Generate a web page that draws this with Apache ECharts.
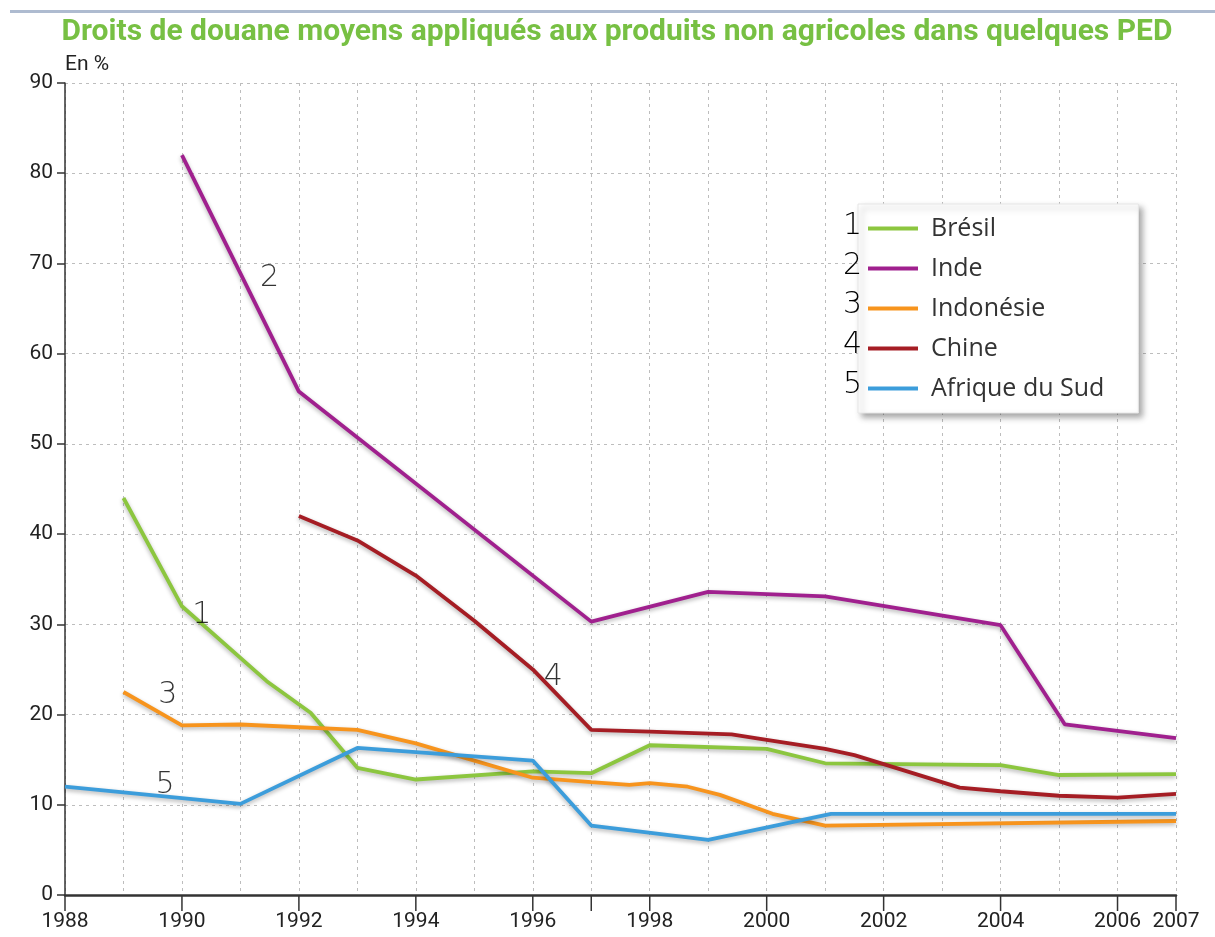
<!DOCTYPE html>
<html>
<head>
<meta charset="utf-8">
<script src="https://cdn.jsdelivr.net/npm/echarts@6/dist/echarts.min.js"></script>
<style>html,body{margin:0;padding:0;background:#fff}#c{width:1215px;height:937px}</style>
</head>
<body>
<div id="c"></div>
<script>
const titleText = 'Droits de douane moyens appliqués aux produits non agricoles dans quelques PED';
const yUnit = 'En %';
const seriesNames = ['Brésil', 'Inde', 'Indonésie', 'Chine', 'Afrique du Sud'];
const seriesColors = ['#8cc63f', '#a0208e', '#f7941d', '#a51d24', '#3c9ddb'];

const bresilYears = [1989, 1990, 1991.45, 1992.2, 1993, 1994, 1996, 1997, 1998, 2000, 2001, 2004, 2005, 2007];
const bresilValues = [44, 32, 23.7, 20.2, 14.1, 12.8, 13.7, 13.5, 16.6, 16.2, 14.6, 14.4, 13.3, 13.4];

const indeYears = [1990, 1992, 1997, 1999, 2001, 2004, 2005.1, 2007];
const indeValues = [82, 55.8, 30.3, 33.6, 33.1, 29.9, 18.9, 17.4];

const indonesieYears = [1989, 1990, 1991, 1993, 1994, 1995, 1996, 1997, 1997.65, 1998, 1998.65, 1999.2, 2000.1, 2001, 2007];
const indonesieValues = [22.5, 18.8, 18.9, 18.3, 16.8, 14.9, 13.0, 12.5, 12.2, 12.4, 12.0, 11.1, 9.0, 7.7, 8.2];

const chineYears = [1992, 1993, 1994, 1995, 1996, 1997, 1998, 1999.4, 2000, 2001, 2001.5, 2002, 2003.3, 2004, 2005, 2006, 2007];
const chineValues = [42, 39.3, 35.4, 30.4, 25, 18.3, 18.1, 17.8, 17.2, 16.2, 15.5, 14.5, 11.9, 11.5, 11.0, 10.8, 11.2];

const afriqueYears = [1988, 1991, 1993, 1996, 1997, 1999, 2001.1, 2007];
const afriqueValues = [12.0, 10.1, 16.3, 14.9, 7.7, 6.1, 9.0, 9.0];

const yearMin = 1988, yearMax = 2007;
const labelStep = 2;
const xTickValues = [1988, 1990, 1992, 1994, 1996, 1997, 1998, 2000, 2002, 2004, 2006, 2007];

const annotLabels = ['1', '2', '3', '4', '5'];
const annotYears = [1990.34, 1991.5, 1989.76, 1996.35, 1989.71];
const annotValues = [31.0, 68.4, 22.2, 24.1, 12.2];

const narrow = "Roboto, sans-serif";

function pairs(xs, ys) { return xs.map((x, i) => [x, ys[i]]); }
const allYears = [bresilYears, indeYears, indonesieYears, chineYears, afriqueYears];
const allValues = [bresilValues, indeValues, indonesieValues, chineValues, afriqueValues];

const lineSeries = seriesNames.map((n, i) => ({
  name: n,
  type: 'line',
  data: pairs(allYears[i], allValues[i]),
  showSymbol: false,
  symbol: 'none',
  lineStyle: { color: seriesColors[i], width: 3.8, shadowBlur: 4, shadowColor: 'rgba(0,0,0,0.3)', shadowOffsetY: 2 },
  itemStyle: { color: seriesColors[i] },
  z: 3
}));

const annotSeries = {
  name: 'annot',
  type: 'scatter',
  symbolSize: 0,
  data: annotYears.map((x, i) => ({ value: [x, annotValues[i]], label: { formatter: annotLabels[i] } })),
  label: { show: true, position: 'inside', color: '#000', fontSize: 30, fontWeight: 200, fontFamily: 'DejaVu Sans' },
  z: 5
};

// x-axis tick marks below the axis line, positioned through the axis scale
const tickSeries = {
  name: 'ticks',
  type: 'custom',
  clip: false,
  silent: true,
  data: xTickValues.map(v => [v, 0]),
  renderItem: function (params, api) {
    const p = api.coord([api.value(0), 0]);
    return { type: 'line', shape: { x1: p[0], y1: p[1], x2: p[0], y2: p[1] + 16 }, style: { stroke: '#333', lineWidth: 1.5 } };
  },
  z: 10
};

const hw = { fontSize: 30, fontWeight: 200, fontFamily: 'DejaVu Sans', fill: '#000' };

const chart = echarts.init(document.getElementById('c'), null, { renderer: 'canvas' });
chart.setOption({
  backgroundColor: '#fff',
  animation: false,
  title: {
    text: titleText,
    left: 612, top: 12, textAlign: 'center',
    textStyle: { color: '#77c043', fontSize: 30, fontWeight: 'bold', fontFamily: narrow }
  },
  grid: { left: 65, right: 39, top: 83, bottom: 42 },
  legend: {
    data: seriesNames,
    orient: 'vertical',
    left: 858, top: 204,
    padding: [12, 34, 12, 10],
    itemWidth: 50, itemHeight: 4, itemGap: 15,
    icon: 'rect',
    backgroundColor: '#fff',
    borderColor: '#e6e6e6', borderWidth: 1,
    shadowBlur: 6, shadowColor: 'rgba(0,0,0,0.35)', shadowOffsetX: 4, shadowOffsetY: 4,
    textStyle: { fontSize: 25, color: '#333', fontFamily: "'Open Sans', sans-serif", padding: [0, 0, 0, 8] }
  },
  xAxis: [
    {
      type: 'value', min: yearMin, max: yearMax, interval: 1,
      axisLine: { show: false }, axisTick: { show: false }, axisLabel: { show: false },
      splitLine: { show: true, lineStyle: { color: '#bdbdbd', type: [3, 4], width: 1 } }
    },
    {
      type: 'value', min: yearMin, max: yearMax, interval: labelStep, position: 'bottom',
      axisLine: { show: true, lineStyle: { color: '#333', width: 2.5 } },
      axisTick: { show: false },
      axisLabel: { show: true, showMaxLabel: true, showMinLabel: true, formatter: v => String(v), color: '#222', fontSize: 21, fontFamily: narrow, margin: 16 },
      splitLine: { show: false }
    }
  ],
  yAxis: {
    type: 'value', min: 0, max: 90, interval: 10,
    name: yUnit, nameLocation: 'end', nameGap: 8,
    nameTextStyle: { color: '#222', fontSize: 21, fontFamily: narrow, align: 'left' },
    axisLine: { show: true, lineStyle: { color: '#333', width: 1.5 } },
    axisTick: { show: true, length: 8, lineStyle: { color: '#333', width: 1.5 } },
    axisLabel: { color: '#222', fontSize: 21, fontFamily: narrow, margin: 12 },
    splitLine: { show: true, lineStyle: { color: '#bdbdbd', type: [3, 4], width: 1 } }
  },
  graphic: [
    { type: 'rect', shape: { x: 10, y: 10, width: 1205, height: 3 }, style: { fill: '#aebbd0' }, z: 1 },
    { type: 'text', left: 843, top: 211, style: Object.assign({ text: '1' }, hw), z: 100 },
    { type: 'text', left: 843, top: 251, style: Object.assign({ text: '2' }, hw), z: 100 },
    { type: 'text', left: 843, top: 290, style: Object.assign({ text: '3' }, hw), z: 100 },
    { type: 'text', left: 843, top: 330, style: Object.assign({ text: '4' }, hw), z: 100 },
    { type: 'text', left: 843, top: 370, style: Object.assign({ text: '5' }, hw), z: 100 }
  ],
  series: lineSeries.concat([annotSeries, tickSeries])
});
</script>
</body>
</html>
